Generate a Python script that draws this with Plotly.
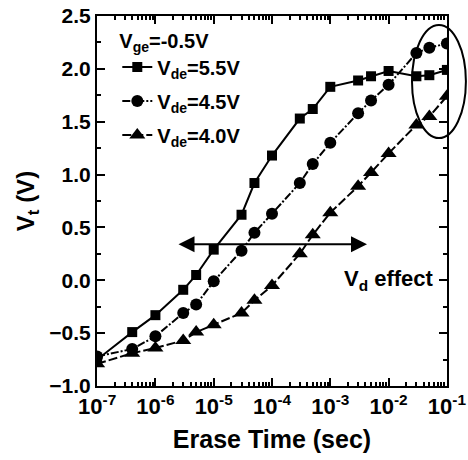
import plotly.graph_objects as go

# Erase times (sec)
t = [1e-7, 4e-7, 1e-6, 3e-6, 5e-6, 1e-5, 3e-5, 5e-5, 1e-4, 3e-4, 5e-4,
     1e-3, 3e-3, 5e-3, 1e-2, 3e-2, 5e-2, 1e-1]

vt_55 = [-0.75, -0.49, -0.33, -0.09, 0.05, 0.29, 0.62, 0.92, 1.18, 1.53, 1.62,
         1.83, 1.89, 1.93, 1.98, 1.93, 1.94, 1.99]
vt_45 = [-0.72, -0.65, -0.53, -0.31, -0.23, -0.01, 0.28, 0.45, 0.63, 0.92, 1.10,
         1.30, 1.58, 1.70, 1.85, 2.15, 2.20, 2.24]
vt_40 = [-0.79, -0.69, -0.64, -0.57, -0.49, -0.42, -0.31, -0.19, -0.05, 0.25, 0.43,
         0.64, 0.89, 1.02, 1.20, 1.47, 1.55, 1.74]

x_tickvals = [1e-7, 1e-6, 1e-5, 1e-4, 1e-3, 1e-2, 1e-1]
x_ticktext = ["10<sup>-7</sup>", "10<sup>-6</sup>", "10<sup>-5</sup>", "10<sup>-4</sup>",
              "10<sup>-3</sup>", "10<sup>-2</sup>", "10<sup>-1</sup>"]

names = ["V<sub>de</sub>=5.5V", "V<sub>de</sub>=4.5V", "V<sub>de</sub>=4.0V"]
series = [vt_55, vt_45, vt_40]
symbols = ["square", "circle", "triangle-up"]
msizes = [10, 12, 14]
dashes = ["solid", "8px,2px,2px,2px", "9px,3px"]

FONT = "Liberation Sans"

fig = go.Figure()
for i in range(3):
    fig.add_trace(go.Scatter(
        x=t, y=series[i], name=names[i], mode="lines+markers",
        legendgroup=f"g{i}",
        line=dict(color="black", width=2, dash=dashes[i]),
        marker=dict(symbol=symbols[i], size=msizes[i], color="black"),
    ))

axis_common = dict(
    showline=True, linecolor="black", linewidth=2, mirror="allticks",
    ticks="inside", ticklen=8, tickwidth=2, tickcolor="black",
    showgrid=False, zeroline=False, ticklabeloverflow="allow", automargin=False,
    tickfont=dict(family=FONT, size=22, color="black", weight="bold"),
)

fig.update_xaxes(
    type="log", range=[-7.002, -0.998],
    tickmode="array", tickvals=x_tickvals, ticktext=x_ticktext,
    title=dict(text="Erase Time (sec)",
               font=dict(family=FONT, size=25, color="black", weight="bold"),
               standoff=12),
    minor=dict(ticks="inside", ticklen=4, tickwidth=1.5, tickcolor="black",
               showgrid=False, dtick="D1"),
    **axis_common,
)
fig.update_yaxes(
    range=[-1.0, 2.5], dtick=0.5, tickformat=".1f",
    title=dict(text="V<sub>t</sub> (V)",
               font=dict(family=FONT, size=24, color="black", weight="bold"),
               standoff=8),
    minor=dict(ticks="inside", ticklen=4, tickwidth=1.5, tickcolor="black",
               dtick=0.25, showgrid=False),
    **{**axis_common, "tickfont": dict(family=FONT, size=21, color="black", weight="bold")},
)

# Vd effect arrow (double headed)
fig.add_annotation(
    x=-2.37, y=0.34, ax=-5.63, ay=0.34, xref="x", yref="y", axref="x", ayref="y",
    text="", showarrow=True, arrowhead=2, arrowside="end+start",
    arrowsize=1.6, arrowwidth=2, arrowcolor="black",
)
fig.add_annotation(
    x=-2.0, y=0.0, xref="x", yref="y", text="V<sub>d</sub> effect",
    showarrow=False, font=dict(family=FONT, size=22, color="black", weight="bold"),
)

# ellipse highlighting the saturation region
fig.add_shape(type="circle", xref="paper", yref="paper",
              x0=0.90, x1=1.054, y0=0.670, y1=0.976,
              line=dict(color="black", width=2))

fig.update_layout(
    width=468, height=460,
    margin=dict(l=97, r=21, t=16, b=74),
    paper_bgcolor="white", plot_bgcolor="white",
    font=dict(family=FONT, color="black"),
    showlegend=True,
    legend=dict(
        x=0.058, y=0.985, xanchor="left", yanchor="top",
        bgcolor="rgba(0,0,0,0)", borderwidth=0,
        tracegroupgap=5,
        title=dict(text="V<sub>ge</sub>=-0.5V",
                   font=dict(family=FONT, size=20, color="black", weight="bold")),
        font=dict(family=FONT, size=20, color="black", weight="bold"),
    ),
)

fig.write_html("out.html")
